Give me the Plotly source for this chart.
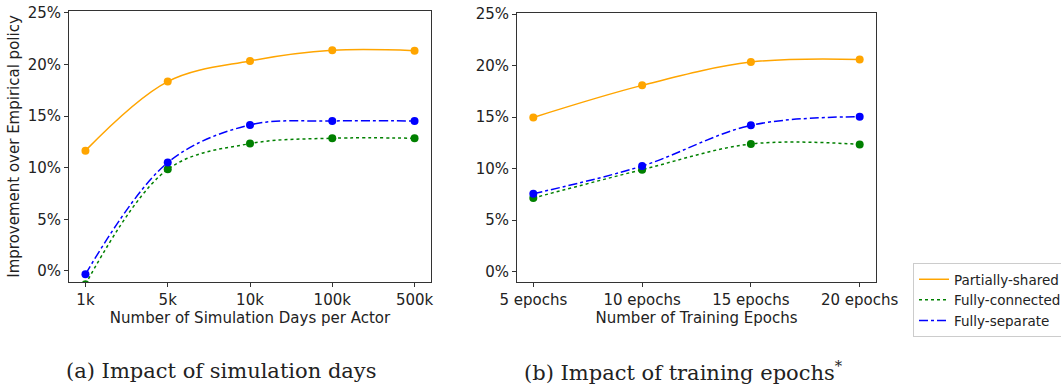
import plotly.graph_objects as go

# ---- data ----
days_labels = ["1k", "5k", "10k", "100k", "500k"]
days_partial = [11.66, 18.35, 20.35, 21.38, 21.35]
days_connected = [-1.3, 9.85, 12.34, 12.86, 12.86]
days_separate = [-0.32, 10.5, 14.15, 14.53, 14.53]

epoch_labels = ["5 epochs", "10 epochs", "15 epochs", "20 epochs"]
epoch_partial = [14.97, 18.08, 20.34, 20.6]
epoch_connected = [7.15, 9.9, 12.39, 12.35]
epoch_separate = [7.57, 10.25, 14.2, 15.04]

ytick_vals = [0, 5, 10, 15, 20, 25]
ytick_text = ["0%", "5%", "10%", "15%", "20%", "25%"]

series_names = ["Partially-shared", "Fully-connected", "Fully-separate"]
colors = ["#FFA500", "#008000", "#0000FF"]
dashes = ["solid", "dot", "dashdot"]

W, H = 1061, 388
ML, MR, MT, MB = 69, 1061 - 876, 11, 388 - 282
PW, PH = W - ML - MR, H - MT - MB

def px_x(p):
    return (p - ML) / PW

def px_y(p):
    return (H - MB - p) / PH

fig = go.Figure()

def add_series(xlabels, ys, xa, ya, showlegend):
    for name, y, c, d in zip(series_names, ys, colors, dashes):
        fig.add_trace(go.Scatter(
            x=list(range(len(xlabels))), y=y, name=name,
            mode="lines", line=dict(color=c, width=1.5, dash=d, shape="spline", smoothing=1.0),
            xaxis=xa, yaxis=ya, showlegend=showlegend, legendgroup=name,
        ))
    for name, y, c in zip(series_names, ys, colors):
        fig.add_trace(go.Scatter(
            x=list(range(len(xlabels))), y=y, name=name,
            mode="markers", marker=dict(color=c, size=8),
            xaxis=xa, yaxis=ya, showlegend=False, legendgroup=name,
        ))

add_series(days_labels, [days_partial, days_connected, days_separate], "x", "y", True)
add_series(epoch_labels, [epoch_partial, epoch_connected, epoch_separate], "x2", "y2", False)

axcommon = dict(showgrid=False, zeroline=False, showline=True, linecolor="#333333",
                linewidth=1, mirror=True, ticks="outside", ticklen=4, tickcolor="#333333",
                automargin=False,
                tickfont=dict(family="DejaVu Sans", size=15, color="#222222"))

fig.update_layout(
    width=W, height=H,
    margin=dict(l=ML, r=MR, t=MT, b=MB, autoexpand=False),
    paper_bgcolor="white", plot_bgcolor="white",
    font=dict(family="DejaVu Sans", color="#222222"),
    xaxis=dict(domain=[0, px_x(431)], range=[-0.2, 4.2], tickmode="array", tickvals=list(range(5)),
               ticktext=days_labels, anchor="y",
               title=dict(text="Number of Simulation Days per Actor", font=dict(size=15), standoff=3),
               **axcommon),
    yaxis=dict(domain=[0, 1], range=[-1.07, 25.19], tickmode="array", tickvals=ytick_vals,
               ticktext=ytick_text, anchor="x",
               title=dict(text="Improvement over Empirical policy", font=dict(size=15), standoff=4),
               **axcommon),
    xaxis2=dict(domain=[px_x(517), 1], range=[-0.15, 3.15], tickmode="array", tickvals=list(range(4)),
                ticktext=epoch_labels, anchor="y2",
                title=dict(text="Number of Training Epochs", font=dict(size=15), standoff=3),
                **axcommon),
    yaxis2=dict(domain=[0, px_y(12.7)], range=[-1.0, 25.13], tickmode="array", tickvals=ytick_vals,
                ticktext=ytick_text, anchor="x2", **axcommon),
    legend=dict(x=px_x(913), y=px_y(263), xanchor="left", yanchor="top",
                bordercolor="#cccccc", borderwidth=1, bgcolor="white",
                font=dict(family="DejaVu Sans", size=13.5), tracegroupgap=0,
                itemwidth=30),
)

fig.add_annotation(text="(a) Impact of simulation days", x=px_x(221), y=px_y(371),
                   xref="paper", yref="paper", showarrow=False, xanchor="center", yanchor="middle",
                   font=dict(family="DejaVu Serif", size=21, color="#222222"))
fig.add_annotation(text="(b) Impact of training epochs<sup>*</sup>", x=px_x(683), y=px_y(371),
                   xref="paper", yref="paper", showarrow=False, xanchor="center", yanchor="middle",
                   font=dict(family="DejaVu Serif", size=21, color="#222222"))

fig.write_html("out.html", config={"displayModeBar": False},
               post_script="document.body.style.margin='0';")
